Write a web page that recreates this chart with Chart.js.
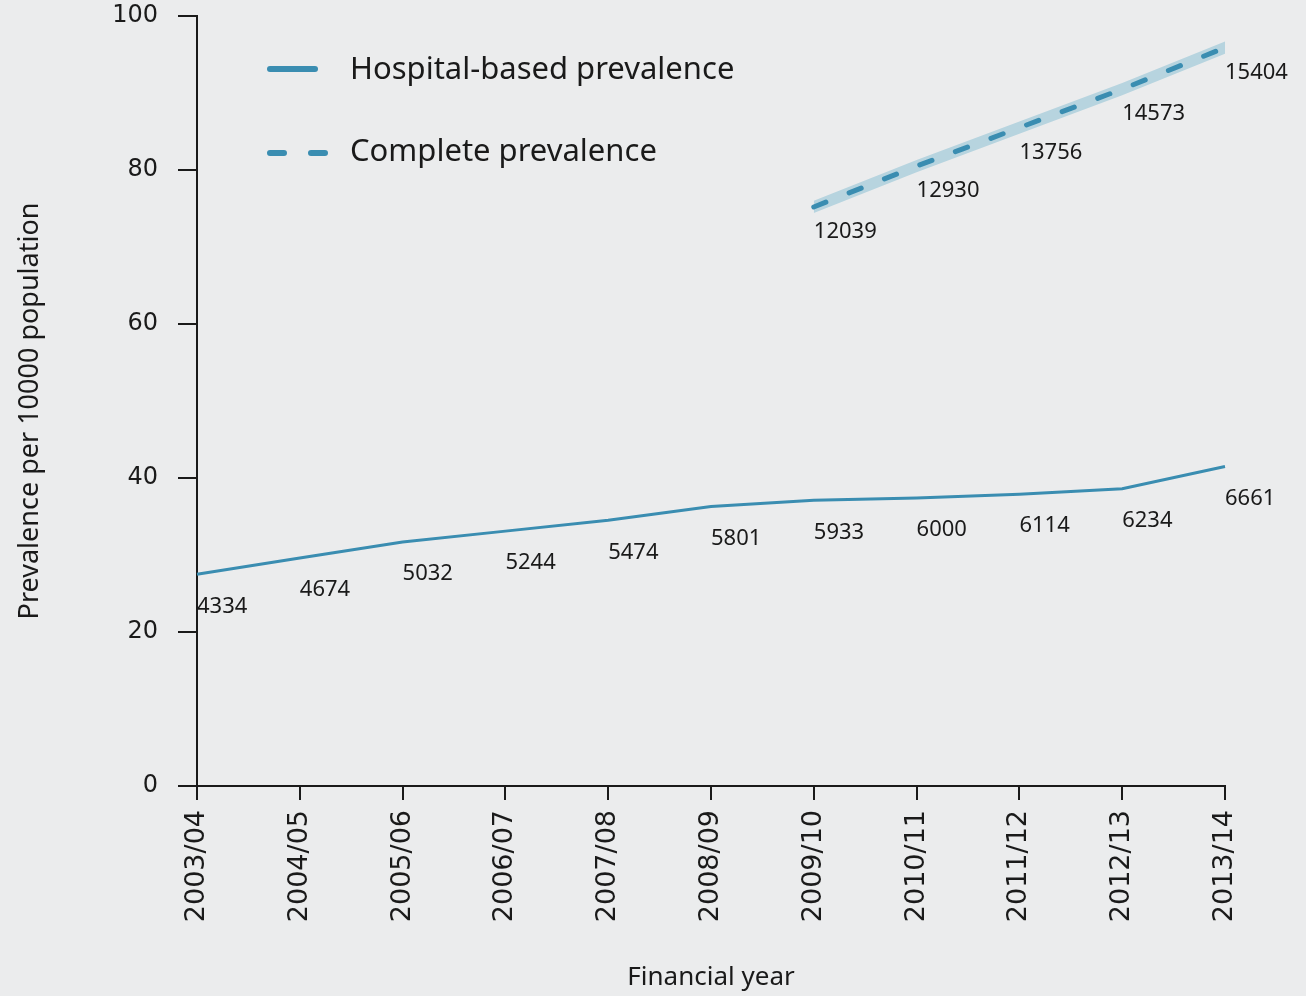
<!DOCTYPE html>
<html>
<head>
<meta charset="utf-8">
<script src="https://cdn.jsdelivr.net/npm/chart.js@4/dist/chart.umd.min.js"></script>
<style>
  html, body { margin: 0; padding: 0; background: #ebeced; }
  canvas { display: block; }
</style>
</head>
<body>
<canvas id="chart" width="1306" height="996"></canvas>
<script>
// Financial years on the x axis
const years = ['2003/04', '2004/05', '2005/06', '2006/07', '2007/08', '2008/09',
               '2009/10', '2010/11', '2011/12', '2012/13', '2013/14'];

// Hospital-based prevalence per 10000 population, and case counts
const hospitalRate  = [27.5, 29.6, 31.7, 33.1, 34.5, 36.3, 37.1, 37.4, 37.9, 38.6, 41.5];
const hospitalCount = [4334, 4674, 5032, 5244, 5474, 5801, 5933, 6000, 6114, 6234, 6661];

// Complete prevalence (available from 2009/10), with its uncertainty band
const completeRate  = [null, null, null, null, null, null, 75.2, 80.5, 85.5, 90.5, 95.9];
const completeLow   = [null, null, null, null, null, null, 74.4, 79.7, 84.7, 89.7, 95.1];
const completeHigh  = [null, null, null, null, null, null, 76.0, 81.3, 86.3, 91.3, 96.7];
const completeCount = [null, null, null, null, null, null, 12039, 12930, 13756, 14573, 15404];

// Y axis tick values
const yTickValues = [0, 20, 40, 60, 80, 100];

const LINE_BLUE = '#3a8db1';
const BAND_BLUE = '#b7d4df';
const INK = '#1a1a1a';

// Dataset indices (lower index is painted on top)
const HOSP = 0, COMP = 1;

// Count labels written under each point of the two series
const countLabels = {
  id: 'countLabels',
  afterDatasetsDraw(chart) {
    const ctx = chart.ctx;
    ctx.save();
    ctx.font = '22px "Noto Sans"';
    ctx.fillStyle = INK;
    ctx.textAlign = 'left';
    ctx.textBaseline = 'middle';
    const series = [
      { index: HOSP, counts: hospitalCount, dy: 32 },
      { index: COMP, counts: completeCount, dy: 25 }
    ];
    series.forEach(s => {
      const meta = chart.getDatasetMeta(s.index);
      meta.data.forEach((pt, i) => {
        if (s.counts[i] == null || pt.skip) return;
        ctx.fillText(String(s.counts[i]), pt.x, pt.y + s.dy);
      });
    });
    ctx.restore();
  }
};

// Legend drawn inside the plot area, top-left
const innerLegend = {
  id: 'innerLegend',
  afterDraw(chart) {
    const ctx = chart.ctx;
    const hosp = chart.data.datasets[HOSP];
    const comp = chart.data.datasets[COMP];
    ctx.save();
    ctx.lineCap = 'round';
    ctx.lineWidth = 6;

    ctx.strokeStyle = hosp.borderColor;
    ctx.beginPath();
    ctx.moveTo(270, 69);
    ctx.lineTo(315, 69);
    ctx.stroke();

    ctx.strokeStyle = comp.borderColor;
    ctx.beginPath();
    ctx.moveTo(270, 153);
    ctx.lineTo(284, 153);
    ctx.moveTo(311, 153);
    ctx.lineTo(325, 153);
    ctx.stroke();

    ctx.font = '31px "Noto Sans"';
    ctx.fillStyle = INK;
    ctx.textAlign = 'left';
    ctx.textBaseline = 'middle';
    ctx.fillText(hosp.label, 350, 70);
    ctx.fillText(comp.label, 350, 152);
    ctx.restore();
  }
};

// Vertical axis title, centred a little below the middle of the axis
const yAxisTitle = {
  id: 'yAxisTitle',
  afterDraw(chart) {
    const ctx = chart.ctx;
    const area = chart.chartArea;
    ctx.save();
    ctx.translate(30, (area.top + area.bottom) / 2 + 10);
    ctx.rotate(-Math.PI / 2);
    ctx.font = '27px "Noto Sans"';
    ctx.fillStyle = INK;
    ctx.textAlign = 'center';
    ctx.textBaseline = 'middle';
    ctx.fillText('Prevalence per 10000 population', 0, 0);
    ctx.restore();
  }
};

new Chart(document.getElementById('chart'), {
  type: 'line',
  data: {
    labels: years,
    datasets: [
      {
        label: 'Hospital-based prevalence',
        data: hospitalRate,
        borderColor: LINE_BLUE,
        borderWidth: 3,
        pointRadius: 0,
        fill: false
      },
      {
        label: 'Complete prevalence',
        data: completeRate,
        borderColor: LINE_BLUE,
        borderWidth: 5,
        borderDash: [13, 25],
        borderCapStyle: 'round',
        pointRadius: 0,
        fill: false
      },
      {
        label: 'Complete prevalence lower bound',
        data: completeLow,
        borderWidth: 0,
        pointRadius: 0,
        fill: false
      },
      {
        label: 'Complete prevalence upper bound',
        data: completeHigh,
        borderWidth: 0,
        pointRadius: 0,
        backgroundColor: BAND_BLUE,
        fill: '-1'
      }
    ]
  },
  options: {
    responsive: false,
    animation: false,
    layout: { padding: { top: 16, right: 81, left: 0, bottom: 0 } },
    plugins: {
      legend: { display: false },
      tooltip: { enabled: false }
    },
    scales: {
      x: {
        type: 'category',
        offset: false,
        grid: {
          drawOnChartArea: false,
          drawTicks: true,
          tickLength: 14,
          lineWidth: 2,
          color: INK
        },
        border: { display: true, color: INK, width: 2 },
        ticks: {
          autoSkip: false,
          minRotation: 90,
          maxRotation: 90,
          padding: 10,
          color: INK,
          font: { family: 'DejaVu Sans', size: 27 }
        },
        title: {
          display: true,
          text: 'Financial year',
          color: INK,
          font: { family: 'Noto Sans', size: 26 },
          padding: { top: 0, bottom: 3 }
        },
        afterFit(scale) {
          scale.height = 210;
          scale.paddingLeft = 0;
          scale.paddingRight = 0;
        }
      },
      y: {
        min: 0,
        max: 100,
        afterBuildTicks(scale) {
          scale.ticks = yTickValues.map(v => ({ value: v }));
        },
        grid: {
          drawOnChartArea: false,
          drawTicks: true,
          tickLength: 19,
          lineWidth: 2,
          color: INK
        },
        border: { display: true, color: INK, width: 2 },
        ticks: {
          padding: 20,
          color: INK,
          font: { family: 'DejaVu Sans', size: 24 }
        },
        title: { display: false },
        afterFit(scale) {
          scale.width = 197;
          scale.paddingTop = 0;
          scale.paddingBottom = 0;
        }
      }
    }
  },
  plugins: [countLabels, innerLegend, yAxisTitle]
});
</script>
</body>
</html>
